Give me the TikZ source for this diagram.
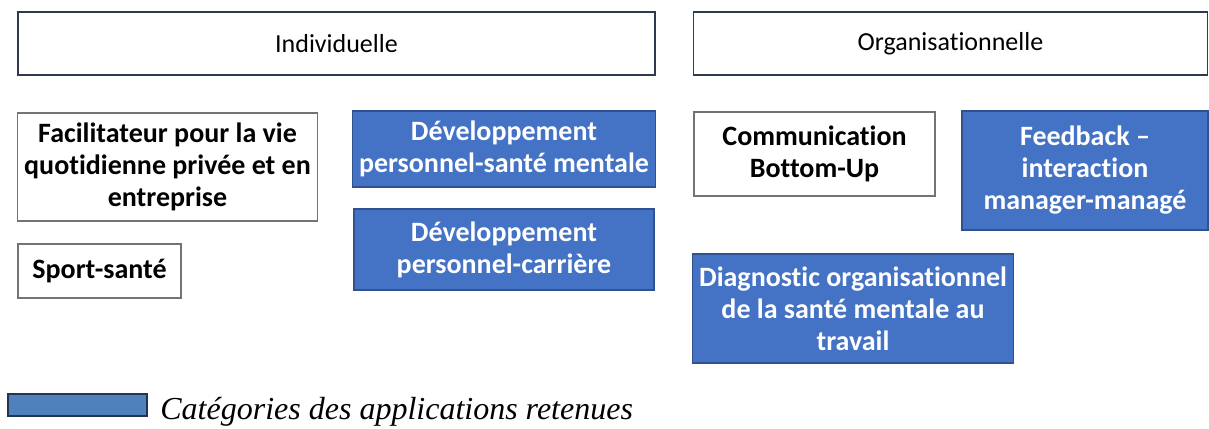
\documentclass[tikz,border=0pt]{standalone}
\usepackage{fontspec}
\setmainfont{Carlito}[Ligatures=NoCommon]
\newfontfamily\legendfont{Liberation Serif}
\definecolor{catblue}{HTML}{4472C4}
\definecolor{catedge}{HTML}{2F528F}
\definecolor{legblue}{HTML}{4F81BD}
\definecolor{legedge}{HTML}{1F3553}
\definecolor{topedge}{HTML}{2E3A50}
\begin{document}
\begin{tikzpicture}[x=0.5pt,y=-0.5pt]
  \tikzstyle{level}=[draw=topedge,line width=0.9pt,fill=white,font=\fontsize{13}{16}\selectfont]
  \tikzstyle{plain}=[draw=black!55,line width=0.7pt,fill=white,align=center,font=\fontsize{14}{16}\selectfont\bfseries]
  \tikzstyle{kept}=[draw=catedge,line width=0.8pt,fill=catblue,text=white,align=center,font=\fontsize{14}{16}\selectfont\bfseries]
  \useasboundingbox (0,0) rectangle (1209,428);
  % niveaux
  \node [level,minimum width=318.5pt,minimum height=31.5pt] (indiv) at (336.5,43.5) {Individuelle};
  \node [level,minimum width=257pt,minimum height=31.5pt] (orga) at (950.5,43.5) {Organisationnelle};
  % individuelle
  \node [plain,minimum width=149.5pt,minimum height=54pt] (facil) at (167.5,167) {Facilitateur pour la vie\\quotidienne privée et en\\entreprise};
  \node [plain,minimum width=81.5pt,minimum height=27pt] (sport) at (99.5,271) {Sport-santé};
  \node [kept,minimum width=150pt,minimum height=38pt] (devsm) at (504,149) {Développement\\personnel-santé mentale};
  \node [kept,minimum width=150pt,minimum height=40.5pt] (devca) at (504,249.5) {Développement\\personnel-carrière};
  % organisationnelle
  \node [plain,minimum width=120.5pt,minimum height=42pt] (comm) at (814.5,154) {Communication\\Bottom-Up};
  \node [kept,minimum width=123pt,minimum height=59.5pt] (feed) at (1085,170.5) {Feedback –\\interaction\\manager-managé};
  \node [kept,minimum width=160pt,minimum height=54.5pt] (diag) at (853,308.5) {Diagnostic organisationnel\\de la santé mentale au\\travail};
  % legende
  \node [draw=legedge,line width=0.9pt,fill=legblue,minimum width=69.5pt,minimum height=11pt,inner sep=0pt] (leg) at (77.5,405) {};
  \node [anchor=west,inner sep=0pt,font=\legendfont\itshape\fontsize{16}{19}\selectfont] (legtext) at (160,412) {Catégories des applications retenues};
\end{tikzpicture}
\end{document}
